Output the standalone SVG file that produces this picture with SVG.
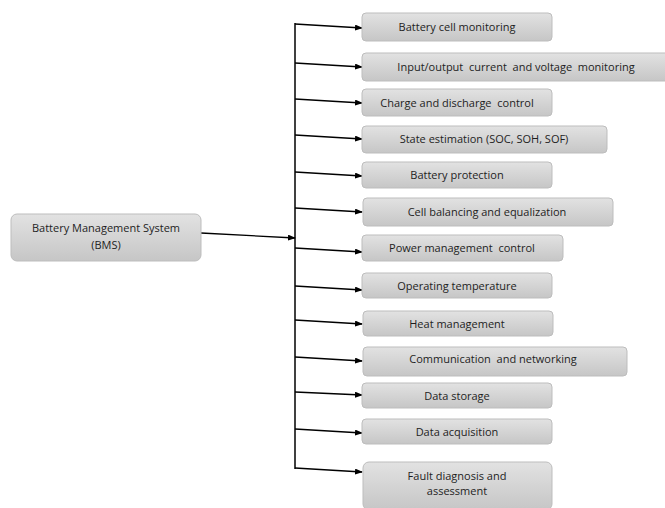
<svg xmlns="http://www.w3.org/2000/svg" width="665" height="508" viewBox="0 0 665 508">
<defs>
<linearGradient id="g" x1="0" y1="0" x2="0" y2="1">
<stop offset="0" stop-color="#e2e2e2"/>
<stop offset="1" stop-color="#c6c6c6"/>
</linearGradient>
<marker id="ah" markerWidth="8" markerHeight="6" refX="7" refY="3" orient="auto" markerUnits="userSpaceOnUse">
<path d="M0,0 L8,3 L0,6 Z" fill="#000"/>
</marker>
<style>
.box{fill:url(#g);stroke:#bdbdbd;stroke-width:1}
.t{font-family:"Open Sans","Liberation Sans",Arial,sans-serif;font-size:11px;fill:#1e1e1e;text-anchor:middle;white-space:pre}
.c{stroke:#000;stroke-width:1.5;fill:none}
.a{stroke:#000;stroke-width:1.3;fill:none;marker-end:url(#ah)}
</style>
</defs>
<rect width="665" height="508" fill="#fff"/>
<g id="connectors">
<line class="c" x1="295" y1="23" x2="295" y2="469"/>
<line class="a" x1="201" y1="233" x2="295" y2="238"/>
<line class="a" x1="295" y1="24" x2="362" y2="28"/>
<line class="a" x1="295" y1="63" x2="362" y2="67"/>
<line class="a" x1="295" y1="99" x2="362" y2="103"/>
<line class="a" x1="295" y1="135" x2="362" y2="139"/>
<line class="a" x1="295" y1="172" x2="362" y2="176"/>
<line class="a" x1="295" y1="208" x2="362" y2="212"/>
<line class="a" x1="295" y1="248" x2="362" y2="252"/>
<line class="a" x1="295" y1="286" x2="362" y2="290"/>
<line class="a" x1="295" y1="320" x2="362" y2="324"/>
<line class="a" x1="295" y1="357" x2="362" y2="361"/>
<line class="a" x1="295" y1="392" x2="362" y2="395"/>
<line class="a" x1="295" y1="429" x2="362" y2="433"/>
<line class="a" x1="295" y1="468" x2="362" y2="472"/>
</g>
<g id="bms"><rect class="box" x="11" y="214" width="190" height="47" rx="6"/><text class="t" x="106" y="232">Battery Management System</text><text class="t" x="106" y="249">(BMS)</text></g>
<g id="n1"><rect class="box" x="362" y="13" width="190" height="28" rx="4"/><text class="t" x="457" y="31">Battery cell monitoring</text></g>
<g id="n2"><rect class="box" x="362" y="53" width="308" height="28" rx="4"/><text class="t" x="516" y="71" xml:space="preserve">Input/output  current  and voltage  monitoring</text></g>
<g id="n3"><rect class="box" x="362" y="89" width="190" height="27" rx="4"/><text class="t" x="457" y="107" xml:space="preserve">Charge and discharge  control</text></g>
<g id="n4"><rect class="box" x="362" y="126" width="245" height="27" rx="4"/><text class="t" x="484" y="143">State estimation (SOC, SOH, SOF)</text></g>
<g id="n5"><rect class="box" x="362" y="162" width="190" height="26" rx="4"/><text class="t" x="457" y="179">Battery protection</text></g>
<g id="n6"><rect class="box" x="363" y="198" width="250" height="28" rx="4"/><text class="t" x="487" y="216">Cell balancing and equalization</text></g>
<g id="n7"><rect class="box" x="362" y="235" width="201" height="26" rx="4"/><text class="t" x="462" y="252" xml:space="preserve">Power management  control</text></g>
<g id="n8"><rect class="box" x="362" y="273" width="190" height="25" rx="4"/><text class="t" x="457" y="290">Operating temperature</text></g>
<g id="n9"><rect class="box" x="363" y="311" width="190" height="25" rx="4"/><text class="t" x="457" y="328">Heat management</text></g>
<g id="n10"><rect class="box" x="363" y="347" width="264" height="29" rx="4"/><text class="t" x="493" y="363" xml:space="preserve">Communication  and networking</text></g>
<g id="n11"><rect class="box" x="362" y="383" width="190" height="25" rx="4"/><text class="t" x="457" y="400">Data storage</text></g>
<g id="n12"><rect class="box" x="362" y="419" width="190" height="25" rx="4"/><text class="t" x="457" y="436">Data acquisition</text></g>
<g id="n13"><rect class="box" x="363" y="462" width="189" height="48" rx="6"/><text class="t" x="457" y="480">Fault diagnosis and</text><text class="t" x="457" y="495">assessment</text></g>
</svg>
